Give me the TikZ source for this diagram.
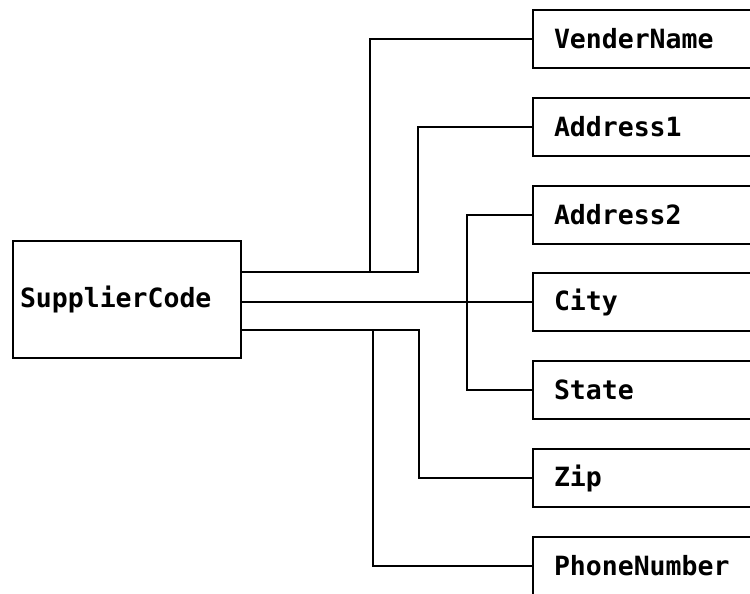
\documentclass[tikz,border=0pt]{standalone}
\usepackage{fontspec}
\setmonofont{DejaVu Sans Mono}
\usepackage{tikz}

\begin{document}
\begin{tikzpicture}[x=1pt, y=-1pt,
		keybox/.style={rectangle, draw=black, line width=2pt, minimum width=228pt, minimum height=117pt, text width=214pt, inner xsep=7pt, align=left, font=\ttfamily\bfseries\fontsize{26.5}{30}\selectfont},
		field/.style={rectangle, draw=black, line width=2pt, anchor=west, minimum height=58pt, text width=210pt, inner xsep=21pt, align=left, font=\ttfamily\bfseries\fontsize{26.5}{30}\selectfont},
		wire/.style={draw=black, line width=2pt}]
		\useasboundingbox (0,0) rectangle (750,594);
		\clip (0,0) rectangle (750,594);
		\fill[white] (0,0) rectangle (750,594);
		
		% Key
		\node[keybox] (sup) at (127,299.5) {SupplierCode};
		
		% Fields
		\node[field] (vn) at (532,39) {VenderName};
		\node[field] (addr1) at (532,127) {Address1};
		\node[field] (addr2) at (532,215) {Address2};
		\node[field] (city) at (532,302) {City};
		\node[field] (state) at (532,390) {State};
		\node[field] (zip) at (532,478) {Zip};
		\node[field] (phone) at (532,566) {PhoneNumber};
		
		% Outgoing lines
		\coordinate (topout) at ([yshift=27.5pt]sup.east);
		\coordinate (botout) at ([yshift=-30.5pt]sup.east);
		
		% Connect fields
		\draw[wire] (topout) -| ([xshift=-114pt]addr1.west) -- (addr1.west);
		\draw[wire] (vn.west) -| ([xshift=128pt]topout);
		\draw[wire] (addr2.west) -| ([xshift=-65pt]state.west) -- (state.west);
		\draw[wire] (sup.east |- city.west) -- (city.west);
		\draw[wire] (botout) -| ([xshift=-113pt]zip.west) -- (zip.west);
		\draw[wire] (phone.west) -| ([xshift=131pt]botout);
	\end{tikzpicture}
\end{document}
